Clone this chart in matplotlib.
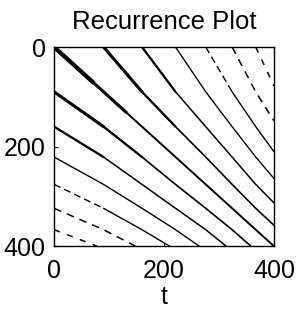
import matplotlib.pyplot as plt

# recurrence lines above the diagonal (x = t, y = t');
# the plot is symmetric, so each one is drawn again mirrored
main_x = [0, 400]
main_y = [0, 400]

line1_x = [90, 160, 221, 276, 324, 367, 400]
line1_y = [0, 90, 160, 221, 276, 324, 358]
line2_x = [160, 221, 276, 324, 367, 400]
line2_y = [0, 90, 160, 221, 276, 313]
line3_x = [221, 276, 324, 367, 400]
line3_y = [0, 90, 160, 221, 264]
line4_x = [276, 324, 367, 400]
line4_y = [0, 90, 160, 210]
line5_x = [324, 367, 400]
line5_y = [0, 90, 148]
line6_x = [367, 400]
line6_y = [0, 78]

ticks = [0, 200, 400]

plt.rcParams['font.family'] = ['Liberation Sans', 'DejaVu Sans']

fig = plt.figure(figsize=(2.99, 3.18), dpi=100)
ax = fig.add_axes([0.181, 0.226, 0.735, 0.626])


def both(x, y, **kw):
    ax.plot(x, y, color='black', solid_capstyle='round', **kw)
    ax.plot(y, x, color='black', solid_capstyle='round', **kw)


both(line1_x, line1_y, lw=1.2)
both(line2_x, line2_y, lw=1.1)
both(line3_x, line3_y, lw=1.0)
both(line4_x[:2], line4_y[:2], lw=1.0, ls=(0, (5, 3)))
both(line4_x[1:], line4_y[1:], lw=1.0)
both(line5_x, line5_y, lw=1.1, ls=(0, (5, 4)))
both(line6_x, line6_y, lw=1.1, ls=(0, (4, 5)))

# thicker start of the nearest lines
both(line1_x[:2], line1_y[:2], lw=2.2)
both(line1_x[1:3], line1_y[1:3], lw=1.6)
both(line2_x[:2], line2_y[:2], lw=1.6)
ax.plot(main_x, main_y, color='black', lw=1.4)
ax.plot([0, 130], [0, 130], color='black', lw=2.2)
ax.plot([0, 70], [0, 70], color='black', lw=3)

ax.set_xlim(0, 400)
ax.set_ylim(400, 0)
ax.set_xticks(ticks)
ax.set_yticks(ticks)
ax.tick_params(direction='in', length=3, labelsize=18)
ax.tick_params(axis='x', pad=9)
ax.tick_params(axis='y', pad=6)
for s in ax.spines.values():
    s.set_linewidth(1)
ax.set_title('Recurrence Plot', fontsize=18.5, pad=13)
ax.set_xlabel('t', fontsize=18, labelpad=2)

fig.savefig('out.png', dpi=100)
